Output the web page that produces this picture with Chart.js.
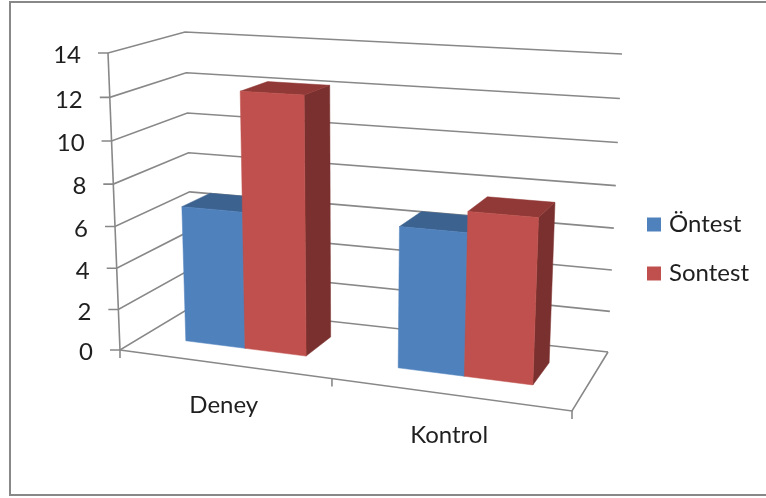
<!DOCTYPE html>
<html>
<head>
<meta charset="utf-8">
<style>
	html, body { margin: 0; padding: 0; background: #fff; }
	canvas { display: block; }
</style>
<script src="https://cdn.jsdelivr.net/npm/chart.js@4"></script>
</head>
<body>
<canvas id="chart" width="766" height="498"></canvas>
<script>
const categories = ['Deney', 'Kontrol'];
const ontestValues = [6.6, 6.6];
const sontestValues = [12.2, 7.55];
const seriesNames = ['Öntest', 'Sontest'];
const yMin = 0;
const yMax = 14;
const yStep = 2;

const FONT = '24px Lato';
const TEXT_COLOR = '#1f1f1f';
const LINE_COLOR = '#888888';
const FACE_COLORS = [
	{front: '#4f81bd', top: '#3c6290', side: '#2f4f75'},
	{front: '#c0504d', top: '#913936', side: '#7a302e'}
];

// unit square -> quad, corners given as [0,0], [1,0], [1,1], [0,1]
function homography(q) {
	const dx1 = q[1][0] - q[2][0], dx2 = q[3][0] - q[2][0], sx = q[0][0] - q[1][0] + q[2][0] - q[3][0];
	const dy1 = q[1][1] - q[2][1], dy2 = q[3][1] - q[2][1], sy = q[0][1] - q[1][1] + q[2][1] - q[3][1];
	const den = dx1 * dy2 - dx2 * dy1;
	const g = (sx * dy2 - dx2 * sy) / den;
	const h = (dx1 * sy - sx * dy1) / den;
	const a = q[1][0] - q[0][0] + g * q[1][0], b = q[3][0] - q[0][0] + h * q[3][0];
	const d = q[1][1] - q[0][1] + g * q[1][1], e = q[3][1] - q[0][1] + h * q[3][1];
	return function(u, v) {
		const w = g * u + h * v + 1;
		return [(a * u + b * v + q[0][0]) / w, (d * u + e * v + q[0][1]) / w];
	};
}

const frontPlane = homography([[120, 350], [572, 411], [586, 76], [108, 53]]);
const backPlane = homography([[193, 306], [608, 352], [622, 54], [185, 32]]);
const BAR_DEPTH = [0.33, 0.72];

function project(u, v, depth) {
	const f = frontPlane(u, v);
	const b = backPlane(u, v);
	return [f[0] + (b[0] - f[0]) * depth, f[1] + (b[1] - f[1]) * depth];
}

function polyline(ctx, points) {
	ctx.beginPath();
	points.forEach(function(p, i) {
		if (i === 0) {
			ctx.moveTo(p[0], p[1]);
		} else {
			ctx.lineTo(p[0], p[1]);
		}
	});
}

function fillFace(ctx, points, color) {
	polyline(ctx, points);
	ctx.closePath();
	ctx.fillStyle = color;
	ctx.fill();
	ctx.strokeStyle = color;
	ctx.lineWidth = 0.5;
	ctx.stroke();
}

function drawAxes(chart) {
	const ctx = chart.ctx;
	const yScale = chart.scales.y;
	const xScale = chart.scales.x;
	const area = chart.chartArea;

	ctx.save();
	ctx.strokeStyle = LINE_COLOR;
	ctx.lineWidth = 1.6;

	// walls, one line per y tick
	yScale.ticks.forEach(function(tick) {
		const v = (area.bottom - yScale.getPixelForValue(tick.value)) / area.height;
		const p = project(0, v, 0);
		polyline(ctx, [[p[0] - 10, p[1]], p, project(0, v, 1), project(1, v, 1)]);
		ctx.stroke();
	});

	// left axis and floor outline
	polyline(ctx, [project(0, 0, 0), project(0, 1, 0)]);
	ctx.stroke();
	polyline(ctx, [project(0, 0, 0), project(1, 0, 0), project(1, 0, 1)]);
	ctx.stroke();

	// category ticks on the edges between categories
	for (let i = 0; i <= categories.length; i++) {
		const p = project(i / categories.length, 0, 0);
		polyline(ctx, [p, [p[0], p[1] + 8]]);
		ctx.stroke();
	}

	ctx.fillStyle = TEXT_COLOR;
	ctx.font = FONT;
	ctx.textBaseline = 'middle';
	ctx.textAlign = 'right';
	yScale.ticks.forEach(function(tick) {
		const v = (area.bottom - yScale.getPixelForValue(tick.value)) / area.height;
		const p = project(0, v, 0);
		ctx.fillText(tick.label, p[0] - 27, p[1] + 2.5);
	});
	ctx.textAlign = 'center';
	categories.forEach(function(label, i) {
		const u = (xScale.getPixelForValue(i) - area.left) / area.width;
		const p = project(u, 0, 0);
		ctx.fillText(label, p[0] + 1, p[1] + 41);
	});
	ctx.restore();
}

function drawBar(chart, bar, colors) {
	const ctx = chart.ctx;
	const area = chart.chartArea;
	const u0 = (bar.x - bar.width / 2 - area.left) / area.width;
	const u1 = (bar.x + bar.width / 2 - area.left) / area.width;
	const v0 = (area.bottom - bar.base) / area.height;
	const v1 = (area.bottom - bar.y) / area.height;
	const d0 = BAR_DEPTH[0], d1 = BAR_DEPTH[1];

	fillFace(ctx, [project(u1, v0, d0), project(u1, v0, d1), project(u1, v1, d1), project(u1, v1, d0)], colors.side);
	fillFace(ctx, [project(u0, v1, d0), project(u1, v1, d0), project(u1, v1, d1), project(u0, v1, d1)], colors.top);
	fillFace(ctx, [project(u0, v0, d0), project(u1, v0, d0), project(u1, v1, d0), project(u0, v1, d0)], colors.front);
}

const perspectivePlugin = {
	id: 'perspective',
	afterUpdate: function(chart) {
		// legend sits at a fixed spot next to the plot
		chart.legend.left = 626;
		chart.legend.right = 626 + chart.legend.width;
	},
	beforeDraw: function(chart) {
		const ctx = chart.ctx;
		ctx.save();
		ctx.strokeStyle = LINE_COLOR;
		ctx.lineWidth = 2;
		ctx.strokeRect(10, 2, 800, 493);
		ctx.restore();
	},
	beforeDatasetsDraw: function(chart) {
		drawAxes(chart);
		categories.forEach(function(label, i) {
			FACE_COLORS.forEach(function(colors, s) {
				drawBar(chart, chart.getDatasetMeta(s).data[i], colors);
			});
		});
		return false;
	}
};

new Chart(document.getElementById('chart'), {
	type: 'bar',
	data: {
		labels: categories,
		datasets: [
			{label: seriesNames[0], data: ontestValues, backgroundColor: FACE_COLORS[0].front, borderColor: FACE_COLORS[0].front, borderWidth: 8},
			{label: seriesNames[1], data: sontestValues, backgroundColor: FACE_COLORS[1].front, borderColor: FACE_COLORS[1].front, borderWidth: 8}
		]
	},
	options: {
		responsive: false,
		animation: false,
		categoryPercentage: 0.58,
		barPercentage: 1,
		scales: {
			x: {display: false},
			y: {display: false, min: yMin, max: yMax, ticks: {stepSize: yStep}}
		},
		plugins: {
			tooltip: {enabled: false},
			legend: {
				position: 'right',
				labels: {
					boxWidth: 6,
					boxHeight: 6,
					padding: 25,
					color: TEXT_COLOR,
					font: {family: 'Lato', size: 24}
				}
			}
		}
	},
	plugins: [perspectivePlugin]
});
</script>
</body>
</html>
